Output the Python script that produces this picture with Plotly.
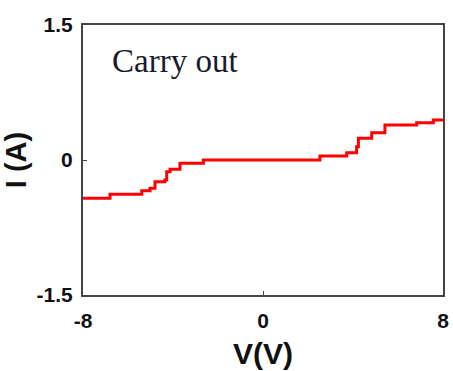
import plotly.graph_objects as go

# Data (stepped I-V curve)
voltage = [-8, -6.8, -5.39, -5.02, -4.8, -4.36, -4.28, -4.13, -3.69, -2.65,
           2.53, 3.72, 4.16, 4.24, 4.83, 5.42, 6.83, 7.57, 8.0]
current = [-0.426, -0.381, -0.341, -0.314, -0.241, -0.222, -0.13, -0.103, -0.037, 0.0,
           0.044, 0.081, 0.148, 0.241, 0.303, 0.389, 0.414, 0.444, 0.444]
x_ticks = [-8, 0, 8]
y_ticks = [-1.5, 0, 1.5]
y_tick_text = ["-1.5", "0", "1.5"]

fig = go.Figure()
fig.add_trace(go.Scatter(x=voltage, y=current, mode="lines", line_shape="hv",
                         line=dict(color="#ff0000", width=3), showlegend=False))

axis_font = dict(family="Liberation Sans, Arial, sans-serif", size=21, color="#111")
fig.update_layout(
    width=453, height=371,
    margin=dict(l=83, r=10, t=25, b=76, autoexpand=False),
    paper_bgcolor="white", plot_bgcolor="white",
    xaxis=dict(range=[-8, 8], tickvals=x_ticks, ticktext=["-8", "0", "8"],
               showgrid=False, zeroline=False, showline=True, linecolor="#444",
               linewidth=2, mirror=True, ticks="inside", ticklen=4, tickcolor="#444",
               ticklabelstandoff=6, automargin=False,
               tickfont=dict(**axis_font, weight="bold"),
               title=dict(text="<b>V(V)</b>", font=dict(family="Liberation Sans, Arial, sans-serif", size=30, color="#111"), standoff=12)),
    yaxis=dict(range=[-1.5, 1.5], tickvals=y_ticks, ticktext=y_tick_text,
               showgrid=False, zeroline=False, showline=True, linecolor="#444",
               linewidth=2, mirror=True, ticks="inside", ticklen=4, tickcolor="#444",
               ticklabelstandoff=4, automargin=False,
               tickfont=dict(**axis_font, weight="bold"),
               title=dict(text="<b>I (A)</b>", font=dict(family="Liberation Sans, Arial, sans-serif", size=29, color="#111"), standoff=2)),
    annotations=[dict(text="Carry out", xref="paper", yref="paper", x=0.075, y=0.865,
                      xanchor="left", yanchor="middle", showarrow=False,
                      font=dict(family="Liberation Serif, Times New Roman, serif", size=33, color="#1a1a2a"))],
)

fig.write_html("out.html")
